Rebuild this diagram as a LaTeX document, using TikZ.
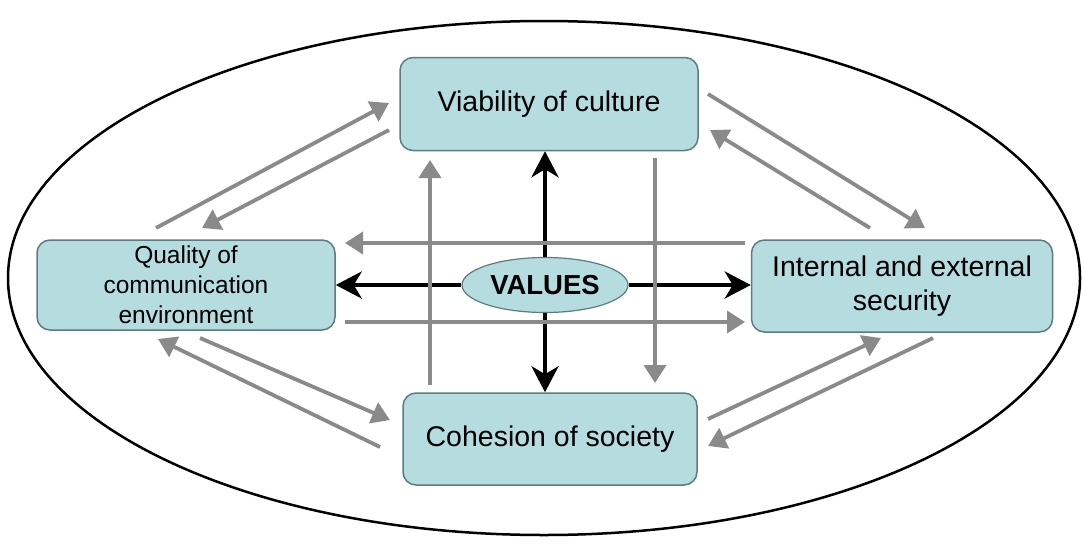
\documentclass[tikz,border=0pt]{standalone}
\usepackage{fontspec}
\setmainfont{Liberation Sans}
\usetikzlibrary{arrows.meta,shapes.geometric}
\definecolor{boxfill}{HTML}{B5DCDF}
\definecolor{boxline}{HTML}{5C7C80}
\definecolor{arrgray}{HTML}{8A8A8A}
\tikzset{
  bx/.style={draw=boxline, line width=1.5pt, fill=boxfill, rounded corners=13pt, inner sep=0pt, align=center, font=\fontsize{28.5}{34}\selectfont},
  garrow/.style={draw=arrgray, line width=3.8pt, -{Triangle[length=18pt,width=22pt]}},
  barrow/.style={draw=black, line width=4.3pt, -{Stealth[length=26pt,width=27pt,inset=8pt]}},
}
\begin{document}
\begin{tikzpicture}[x=1pt,y=-1pt]
\useasboundingbox (0,0) rectangle (1083,546);
% outer ellipse
\draw[line width=2.5pt] (544,278) ellipse [x radius=536, y radius=257];
% boxes
\node[bx, minimum width=298pt, minimum height=93pt] (T) at (549,104) {Viability of culture};
\node[bx, minimum width=298pt, minimum height=90pt, font=\fontsize{24.5}{30}\selectfont] (L) at (186,285) {Quality of\\communication\\environment};
\node[bx, minimum width=301pt, minimum height=92pt] (R) at (902,286) {Internal and external\\security};
\node[bx, minimum width=294pt, minimum height=92pt] (B) at (550,439) {Cohesion of society};
\node[ellipse, draw=boxline, line width=1.2pt, fill=boxfill, minimum width=166pt, minimum height=55pt, inner sep=0pt, font=\bfseries\fontsize{27.5}{32}\selectfont] (V) at (545,285) {VALUES};
% black arrows
\draw[barrow] (V.north) -- (V.north |- T.south);
\draw[barrow] (V.south) -- (V.south |- B.north);
\draw[barrow] (V.west) -- (V.west -| L.east);
\draw[barrow] (V.east) -- (V.east -| R.west);
% gray arrow coordinates
\coordinate (h1s) at (745,243); \coordinate (h1e) at (345,243);
\coordinate (h2s) at (345,322); \coordinate (h2e) at (745,322);
\coordinate (v1s) at (430,385); \coordinate (v1e) at (430,160);
\coordinate (v2s) at (655,158); \coordinate (v2e) at (655,383);
\coordinate (a1s) at (156,228); \coordinate (a1e) at (389,103);
\coordinate (a2s) at (389,130); \coordinate (a2e) at (202,228);
\coordinate (b1s) at (708,94);  \coordinate (b1e) at (925,228);
\coordinate (b2s) at (870,228); \coordinate (b2e) at (710,130);
\coordinate (c1s) at (380,447); \coordinate (c1e) at (158,339);
\coordinate (c2s) at (200,338); \coordinate (c2e) at (390,420);
\coordinate (d1s) at (708,419); \coordinate (d1e) at (881,338);
\coordinate (d2s) at (933,338); \coordinate (d2e) at (708,446);
\foreach \p in {h1,h2,v1,v2,a1,a2,b1,b2,c1,c2,d1,d2}
  \draw[garrow] (\p s) -- (\p e);
\end{tikzpicture}
\end{document}
